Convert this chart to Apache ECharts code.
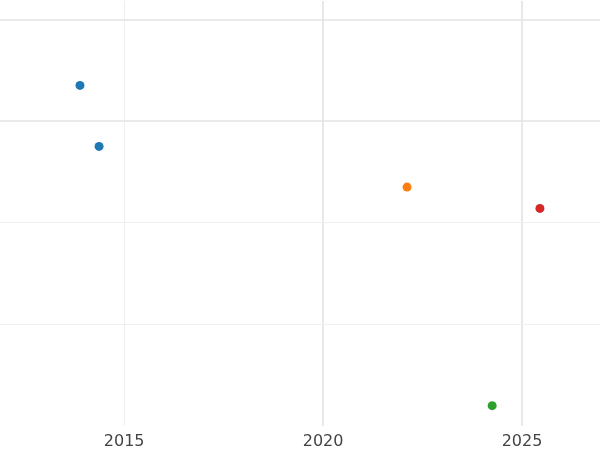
<!DOCTYPE html>
<html>
<head>
<meta charset="utf-8">
<script src="https://cdn.jsdelivr.net/npm/echarts@6/dist/echarts.min.js"></script>
<style>html,body{margin:0;padding:0;background:#fff}#c{width:600px;height:450px}</style>
</head>
<body>
<div id="c"></div>
<script>
// point data, year on x, value on y
var years = [2013.89, 2014.37, 2022.11, 2024.25, 2025.45];
var values = [2.35, 1.75, 1.35, -0.80, 1.14];
var colors = ['#1f77b4', '#1f77b4', '#ff7f0e', '#2ca02c', '#d62728'];
var xTicks = [2015, 2020, 2025];
var xMajor = [2020, 2025];
var yTicks = [0, 1, 2, 3];
var yMajor = [2, 3];

var chart = echarts.init(document.getElementById('c'));

var gridLines = [];
xTicks.forEach(function (v) {
    var major = xMajor.indexOf(v) >= 0;
    gridLines.push({xAxis: v, lineStyle: {color: major ? '#e3e3e3' : '#efefef', width: major ? 1.6 : 1, type: 'solid'}});
});
yTicks.forEach(function (v) {
    var major = yMajor.indexOf(v) >= 0;
    gridLines.push({yAxis: v, lineStyle: {color: major ? '#e3e3e3' : '#efefef', width: major ? 1.6 : 1, type: 'solid'}});
});

var points = years.map(function (x, i) {
    return {value: [x, values[i]], itemStyle: {color: colors[i], opacity: 1}};
});

chart.setOption({
    animation: false,
    grid: {left: 0, right: 0, top: 1, bottom: 22, containLabel: false},
    xAxis: {
        type: 'value', min: 2011.88, max: 2026.96,
        axisLine: {show: false}, axisTick: {show: false}, splitLine: {show: false},
        axisLabel: {
            customValues: xTicks, color: '#444', fontSize: 16, margin: 8, fontFamily: 'DejaVu Sans',
            formatter: function (v) { return String(v); }
        }
    },
    yAxis: {
        type: 'value', min: -1, max: 3.18,
        axisLine: {show: false}, axisTick: {show: false}, splitLine: {show: false},
        axisLabel: {show: false}
    },
    series: [{
        type: 'scatter',
        symbolSize: 9,
        data: points,
        markLine: {silent: true, symbol: 'none', label: {show: false}, z: 0, data: gridLines}
    }]
});
</script>
</body>
</html>
